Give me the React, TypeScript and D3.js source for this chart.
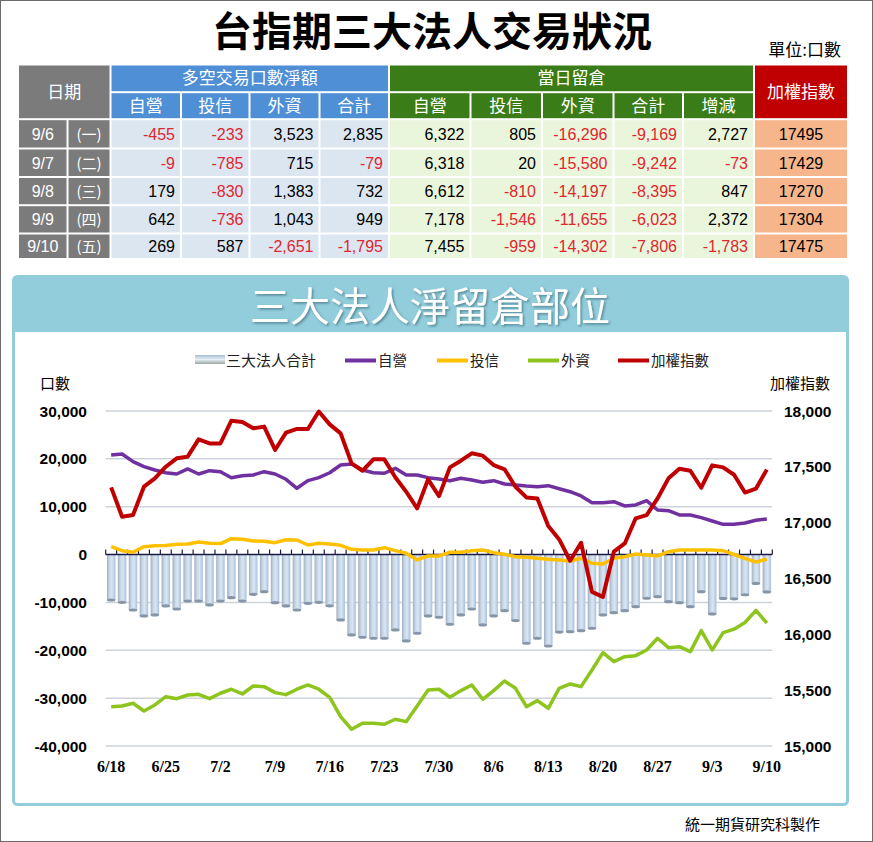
import React from 'react';
import * as d3 from 'd3';

// ---------- Table data ----------
const tableDates = ['9/6', '9/7', '9/8', '9/9', '9/10'];
const tableWeekdays = ['(一)', '(二)', '(三)', '(四)', '(五)'];
const tradeDealer = [-455, -9, 179, 642, 269];
const tradeTrust = [-233, -785, -830, -736, 587];
const tradeForeign = [3523, 715, 1383, 1043, -2651];
const tradeTotal = [2835, -79, 732, 949, -1795];
const oiDealer = [6322, 6318, 6612, 7178, 7455];
const oiTrust = [805, 20, -810, -1546, -959];
const oiForeign = [-16296, -15580, -14197, -11655, -14302];
const oiTotal = [-9169, -9242, -8395, -6023, -7806];
const oiChange = [2727, -73, 847, 2372, -1783];
const tableTaiex = [17495, 17429, 17270, 17304, 17475];

// ---------- Chart data ----------
const chartDates = [
  '6/18',
  '6/21', '6/22', '6/23', '6/24', '6/25',
  '6/28', '6/29', '6/30', '7/1', '7/2',
  '7/5', '7/6', '7/7', '7/8', '7/9',
  '7/12', '7/13', '7/14', '7/15', '7/16',
  '7/19', '7/20', '7/21', '7/22', '7/23',
  '7/26', '7/27', '7/28', '7/29', '7/30',
  '8/2', '8/3', '8/4', '8/5', '8/6',
  '8/9', '8/10', '8/11', '8/12', '8/13',
  '8/16', '8/17', '8/18', '8/19', '8/20',
  '8/23', '8/24', '8/25', '8/26', '8/27',
  '8/30', '8/31', '9/1', '9/2', '9/3',
  '9/6', '9/7', '9/8', '9/9', '9/10',
];
const xLabels = ['6/18', '6/25', '7/2', '7/9', '7/16', '7/23', '7/30', '8/6', '8/13', '8/20', '8/27', '9/3', '9/10'];

const totalOI = [
  -9490, -9970, -11580, -12830, -12620, -10740, -11370, -9700, -9700, -10530,
  -9700, -9000, -9700, -8300, -7750, -10050, -10740, -11580, -10180, -9970,
  -10700, -13660, -16800, -17280, -17490, -17490, -15750, -18050, -16440, -12830,
  -13100, -14560, -12620, -11370, -14710, -12830, -11720, -13800, -18530, -17490,
  -19100, -16200, -16110, -15900, -15400, -12620, -12140, -11720, -10880, -9130,
  -8790, -9840, -10050, -10880, -7750, -12410, -9169, -9242, -8395, -6023,
  -7806,
];
const dealer = [
  20810, 21020, 19410, 18370, 17680, 17110, 16840, 17890, 16840, 17530,
  17320, 16070, 16490, 16630, 17320, 16840, 15730, 13850, 15440, 16070,
  17100, 18720, 18930, 17680, 17110, 16990, 18030, 16630, 16630, 16070,
  15800, 15440, 15940, 15590, 15100, 15440, 14750, 14540, 14330, 14190,
  14400, 13750, 13140, 12240, 10850, 10850, 11050, 10150, 10360, 11260,
  9320, 9170, 8270, 8270, 7710, 7020, 6322, 6318, 6612, 7178,
  7455,
];
const trust = [
  1650, 820, 480, 1650, 1860, 1900, 2150, 2200, 2630, 2360,
  2300, 3320, 3180, 2840, 2800, 2490, 3110, 3040, 2000, 2360,
  2200, 1940, 1100, 960, 960, 1440, 820, 270, -1130, -290,
  -290, 480, 480, 820, 960, 400, 60, -440, -570, -780,
  -990, -1130, -1340, -780, -1820, -1960, -780, -440, 130, -80,
  -290, 610, 960, 960, 960, 960, 805, 20, -810, -1546,
  -959,
];
const foreign = [
  -31780, -31630, -31070, -32680, -31420, -29690, -30110, -29340, -29190, -30110,
  -28980, -28140, -29130, -27460, -27600, -28850, -29270, -28140, -27240, -28140,
  -29860, -33870, -36500, -35250, -35250, -35460, -34410, -34910, -31630, -28290,
  -28140, -29820, -28430, -27240, -30240, -28430, -26410, -27940, -31780, -30520,
  -32120, -27940, -27040, -27600, -24110, -20500, -22380, -21330, -21120, -19930,
  -17490, -19450, -19240, -20290, -15900, -19930, -16296, -15580, -14197, -11655,
  -14302,
];
const taiex = [
  17316, 17053, 17068, 17322, 17397, 17501, 17576, 17591, 17746, 17710,
  17710, 17913, 17901, 17845, 17860, 17651, 17806, 17839, 17839, 17995,
  17880, 17800, 17531, 17465, 17567, 17567, 17406, 17277, 17128, 17388,
  17238, 17495, 17555, 17621, 17600, 17516, 17478, 17322, 17226, 17217,
  16970, 16850, 16659, 16820, 16380, 16336, 16740, 16814, 17039, 17068,
  17217, 17397, 17483, 17465, 17313, 17513, 17495, 17429, 17270, 17304,
  17475,
];
const leftTicks = [30000, 20000, 10000, 0, -10000, -20000, -30000, -40000];
const rightTicks = [18000, 17500, 17000, 16500, 16000, 15500, 15000];

const CJK = '"Noto Sans CJK TC", "Noto Sans CJK SC", sans-serif';
const NUM = '"Liberation Sans", Arial, sans-serif';
const SERIF = '"Liberation Serif", "Times New Roman", serif';

const fmt = (v: number) => d3.format(',')(v).replace('\u2212', '-');

export default function App() {
  const W = 873;
  const H = 842;

  // ---------- table geometry ----------
  const colEdges = [18, 67.5, 110.5, 181, 249.5, 319.5, 389, 470.5, 542, 613.5, 683, 754, 848];
  const rowEdges = [64.5, 92.2, 119.2, 148.5, 177, 205.2, 233.5, 259];
  const gap = 1;
  const GRAY = '#7b7b7b';
  const BLUE = '#4f8fd6';
  const LBLUE = '#dce6f1';
  const GREEN = '#3a7c17';
  const LGREEN = '#eaf6dc';
  const RED = '#c00000';
  const ORANGE = '#f6b58a';
  const NEG = '#e0262e';

  const cellRect = (c0: number, c1: number, r0: number, r1: number, fill: string, key: string) => (
    <rect
      key={key}
      x={colEdges[c0] + gap}
      y={rowEdges[r0] + gap}
      width={colEdges[c1] - colEdges[c0] - 2 * gap}
      height={rowEdges[r1] - rowEdges[r0] - 2 * gap}
      fill={fill}
    />
  );
  const cx = (c0: number, c1: number) => (colEdges[c0] + colEdges[c1]) / 2;
  const cy = (r0: number, r1: number) => (rowEdges[r0] + rowEdges[r1]) / 2;

  const tableCols: { vals: number[]; fill: string }[] = [
    { vals: tradeDealer, fill: LBLUE },
    { vals: tradeTrust, fill: LBLUE },
    { vals: tradeForeign, fill: LBLUE },
    { vals: tradeTotal, fill: LBLUE },
    { vals: oiDealer, fill: LGREEN },
    { vals: oiTrust, fill: LGREEN },
    { vals: oiForeign, fill: LGREEN },
    { vals: oiTotal, fill: LGREEN },
    { vals: oiChange, fill: LGREEN },
  ];
  const subHeads = ['自營', '投信', '外資', '合計', '自營', '投信', '外資', '合計', '增減'];

  // ---------- chart scales ----------
  const x = d3.scaleBand<string>().domain(chartDates).range([105.7, 772.3]).padding(0);
  const step = x.step();
  const px = (i: number) => (x(chartDates[i]) as number) + step / 2;
  const yL = d3.scaleLinear().domain([-40000, 30000]).range([746, 411]);
  const yR = d3.scaleLinear().domain([15000, 18000]).range([746, 411]);
  const lineL = d3.line<number>().x((_, i) => px(i)).y((d) => yL(d));
  const lineR = d3.line<number>().x((_, i) => px(i)).y((d) => yR(d));
  const barW = step * 0.78;

  const C_DEALER = '#7030a0';
  const C_TRUST = '#ffc000';
  const C_FOREIGN = '#8dc41e';
  const C_TAIEX = '#c00000';

  const legendItems = [
    { label: '自營', color: C_DEALER, x: 345 },
    { label: '投信', color: C_TRUST, x: 437 },
    { label: '外資', color: C_FOREIGN, x: 528 },
    { label: '加權指數', color: C_TAIEX, x: 618 },
  ];

  return (
    <svg
      width={W}
      height={H}
      viewBox={`0 0 ${W} ${H}`}
      style={{ position: 'absolute', left: 0, top: 0, background: '#fff' }}
    >
      <defs>
        <linearGradient id="barGrad" x1="0" y1="0" x2="1" y2="0">
          <stop offset="0%" stopColor="#9fb0c2" />
          <stop offset="30%" stopColor="#c9d6e3" />
          <stop offset="60%" stopColor="#d9e6f6" />
          <stop offset="100%" stopColor="#a9c0dc" />
        </linearGradient>
        <linearGradient id="legGrad" x1="0" y1="0" x2="0" y2="1">
          <stop offset="0%" stopColor="#a9bdd6" />
          <stop offset="50%" stopColor="#e6eef6" />
          <stop offset="100%" stopColor="#9aa8a0" />
        </linearGradient>
        <filter id="shadow" x="-10%" y="-10%" width="130%" height="140%">
          <feDropShadow dx="1.5" dy="1.5" stdDeviation="1.2" floodColor="#3d6a78" floodOpacity="0.7" />
        </filter>
      </defs>

      <rect x={0.5} y={0.5} width={W - 1} height={H - 1} fill="#fff" stroke="#6b6b6b" strokeWidth={1} />

      {/* Title */}
      <text x={432} y={46} textAnchor="middle" fontFamily={CJK} fontWeight={700} fontSize={40} fill="#000">
        台指期三大法人交易狀況
      </text>
      <text x={841} y={56} textAnchor="end" fontFamily={CJK} fontSize={17} fill="#000">
        單位:口數
      </text>

      {/* Table headers */}
      {cellRect(0, 2, 0, 2, GRAY, 'h-date')}
      <text x={cx(0, 2)} y={cy(0, 2) + 6} textAnchor="middle" fontFamily={CJK} fontSize={17} fill="#fff">日期</text>
      {cellRect(2, 6, 0, 1, BLUE, 'h-trade')}
      <text x={cx(2, 6)} y={cy(0, 1) + 6} textAnchor="middle" fontFamily={CJK} fontSize={17} fill="#fff">多空交易口數淨額</text>
      {cellRect(6, 11, 0, 1, GREEN, 'h-oi')}
      <text x={cx(6, 11)} y={cy(0, 1) + 6} textAnchor="middle" fontFamily={CJK} fontSize={17} fill="#fff">當日留倉</text>
      {cellRect(11, 12, 0, 2, RED, 'h-taiex')}
      <text x={cx(11, 12)} y={cy(0, 2) + 6} textAnchor="middle" fontFamily={CJK} fontSize={17} fill="#fff">加權指數</text>
      {subHeads.map((h, j) => (
        <g key={'sh' + j}>
          {cellRect(j + 2, j + 3, 1, 2, j < 4 ? BLUE : GREEN, 'shr' + j)}
          <text x={cx(j + 2, j + 3)} y={cy(1, 2) + 6} textAnchor="middle" fontFamily={CJK} fontSize={17} fill="#fff">
            {h}
          </text>
        </g>
      ))}

      {/* Table rows */}
      {tableDates.map((d, r) => (
        <g key={'row' + r}>
          {cellRect(0, 1, r + 2, r + 3, GRAY, 'd' + r)}
          <text x={cx(0, 1)} y={cy(r + 2, r + 3) + 6} textAnchor="middle" fontFamily={NUM} fontSize={16} fill="#fff">{d}</text>
          {cellRect(1, 2, r + 2, r + 3, GRAY, 'w' + r)}
          <text x={cx(1, 2)} y={cy(r + 2, r + 3) + 6} textAnchor="middle" fontFamily={CJK} fontSize={15} fill="#fff">{tableWeekdays[r]}</text>
          {tableCols.map((col, j) => (
            <g key={'c' + j}>
              {cellRect(j + 2, j + 3, r + 2, r + 3, col.fill, 'cr' + j)}
              <text
                x={colEdges[j + 3] - 6}
                y={cy(r + 2, r + 3) + 6}
                textAnchor="end"
                fontFamily={NUM}
                fontSize={16}
                fill={col.vals[r] < 0 ? NEG : '#000'}
              >
                {fmt(col.vals[r])}
              </text>
            </g>
          ))}
          {cellRect(11, 12, r + 2, r + 3, ORANGE, 't' + r)}
          <text x={cx(11, 12)} y={cy(r + 2, r + 3) + 6} textAnchor="middle" fontFamily={NUM} fontSize={16} fill="#000">
            {tableTaiex[r]}
          </text>
        </g>
      ))}

      {/* Chart panel */}
      <rect x={13.5} y={276.5} width={834} height={528} rx={4} fill="#fff" stroke="#92cddc" strokeWidth={3} />
      <path d="M13.5,332 L13.5,280.5 Q13.5,276.5 17.5,276.5 L843.5,276.5 Q847.5,276.5 847.5,280.5 L847.5,332 Z" fill="#92cddc" />
      <text
        x={430}
        y={321}
        textAnchor="middle"
        fontFamily={CJK}
        fontWeight={400}
        fontSize={40}
        fill="#fff"
        filter="url(#shadow)"
      >
        三大法人淨留倉部位
      </text>

      {/* Legend */}
      <rect x={195} y={355} width={30} height={9} fill="url(#legGrad)" />
      <text x={226} y={366} fontFamily={CJK} fontSize={15} fill="#222">三大法人合計</text>
      {legendItems.map((it) => (
        <g key={it.label}>
          <line x1={it.x} x2={it.x + 31} y1={360.5} y2={360.5} stroke={it.color} strokeWidth={4} />
          <text x={it.x + 33} y={366} fontFamily={CJK} fontSize={14.5} fill="#222">{it.label}</text>
        </g>
      ))}

      {/* Axis titles */}
      <text x={40} y={389} fontFamily={CJK} fontSize={15} fill="#000">口數</text>
      <text x={830} y={389} textAnchor="end" fontFamily={CJK} fontSize={15} fill="#000">加權指數</text>

      {/* Gridlines */}
      {leftTicks.filter((t) => t !== 0).map((t) => (
        <line key={'g' + t} x1={105.7} x2={772.3} y1={yL(t)} y2={yL(t)} stroke="#cdd3dc" strokeWidth={1.5} />
      ))}

      {/* Left tick labels */}
      {leftTicks.map((t) => (
        <text key={'lt' + t} x={87} y={yL(t) + 5.5} textAnchor="end" fontFamily={NUM} fontWeight={700} fontSize={15.5} fill="#000">
          {fmt(t)}
        </text>
      ))}
      {/* Right tick labels */}
      {rightTicks.map((t) => (
        <text key={'rt' + t} x={784} y={yR(t) + 5.5} fontFamily={NUM} fontWeight={700} fontSize={15.5} fill="#000">
          {fmt(t)}
        </text>
      ))}

      {/* Bars */}
      {totalOI.map((v, i) => {
        const y0 = yL(0);
        const y1 = yL(v);
        const bx = px(i) - barW / 2;
        return (
          <g key={'b' + i}>
            <rect x={bx} y={y0} width={barW} height={y1 - y0} fill="url(#barGrad)" />
            <ellipse cx={px(i)} cy={y1} rx={barW / 2} ry={1.6} fill="#8696a8" />
          </g>
        );
      })}

      {/* Zero axis with ticks */}
      <line x1={105.7} x2={772.3} y1={yL(0)} y2={yL(0)} stroke="#1b1b45" strokeWidth={1.5} />
      {d3.range(chartDates.length + 1).map((k) => {
        const tx = 105.7 + k * step;
        return <line key={'tk' + k} x1={tx} x2={tx} y1={yL(0)} y2={yL(0) - 5} stroke="#1b1b45" strokeWidth={1.2} />;
      })}

      {/* Lines */}
      <path d={lineL(foreign) as string} fill="none" stroke={C_FOREIGN} strokeWidth={3.5} strokeLinejoin="round" />
      <path d={lineL(trust) as string} fill="none" stroke={C_TRUST} strokeWidth={3.5} strokeLinejoin="round" />
      <path d={lineL(dealer) as string} fill="none" stroke={C_DEALER} strokeWidth={3.5} strokeLinejoin="round" />
      <path d={lineR(taiex) as string} fill="none" stroke={C_TAIEX} strokeWidth={4} strokeLinejoin="round" />

      {/* X labels */}
      {xLabels.map((l) => (
        <text key={'xl' + l} x={px(chartDates.indexOf(l))} y={772} textAnchor="middle" fontFamily={SERIF} fontWeight={700} fontSize={16} fill="#000">
          {l}
        </text>
      ))}

      {/* Footer */}
      <text x={820} y={830} textAnchor="end" fontFamily={CJK} fontSize={15} fill="#000">統一期貨研究科製作</text>
    </svg>
  );
}
